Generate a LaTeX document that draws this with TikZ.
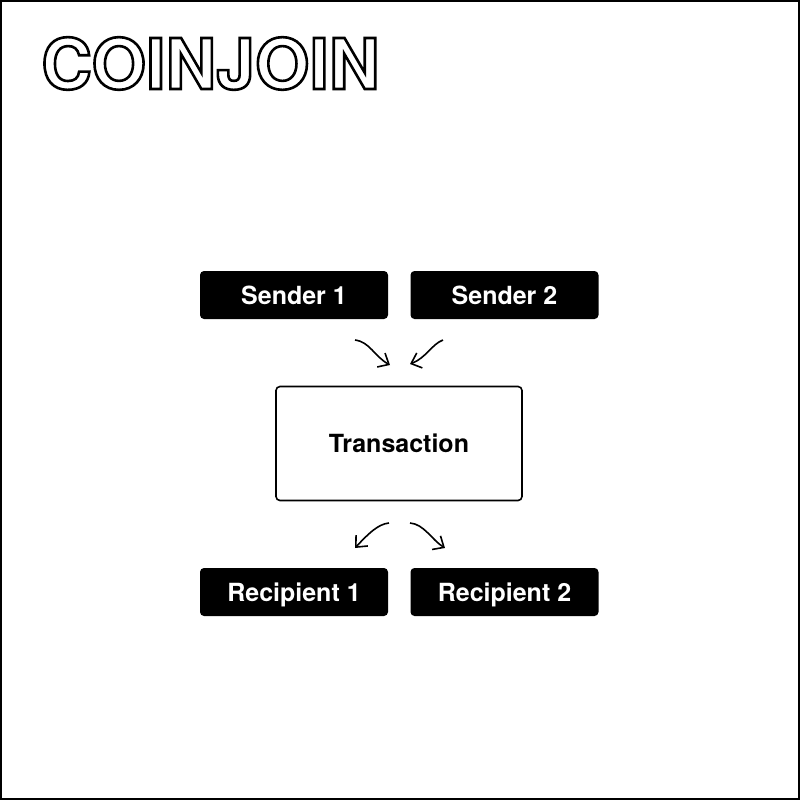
\documentclass[tikz,border=0pt]{standalone}
\usepackage{fontspec}
\setmainfont{TeX Gyre Heros}
\usetikzlibrary{arrows.meta}
\newcommand{\outlinetext}[1]{\special{pdf:code 1 Tr 1.3 w}#1\special{pdf:code 0 Tr}}
\tikzset{
  boxfont/.style={font=\bfseries\fontsize{12.5}{14}\selectfont, text height=9pt, text depth=0pt},
  blackbox/.style={fill=black, rounded corners=2pt, text=white, boxfont,
    minimum width=94pt, minimum height=24pt, inner sep=0pt},
  txbox/.style={draw=black, line width=0.8pt, fill=white, rounded corners=2pt, boxfont,
    minimum width=123pt, minimum height=57pt, inner sep=0pt},
  flow/.style={line width=0.8pt, -{Straight Barb[length=4.5pt,width=8pt,line width=0.8pt]}}
}
\begin{document}
\begin{tikzpicture}[x=0.5pt,y=-0.5pt]
\useasboundingbox (0,0) rectangle (800,800);
\draw[line width=1pt] (1,1) rectangle (799,799);

\node[anchor=base west, inner sep=0pt, font=\bfseries\fontsize{35}{40}\selectfont] (title) at (41,89)
  {\outlinetext{COINJOIN}};

\node[blackbox] (s1) at (294,295) {Sender 1};
\node[blackbox] (s2) at (504.5,295) {Sender 2};
\node[txbox] (tx) at (399,443.5) {Transaction};
\node[blackbox] (r1) at (294,592) {Recipient 1};
\node[blackbox] (r2) at (504.5,592) {Recipient 2};

\coordinate (a1s) at (355,340);
\coordinate (a1e) at (390,365);
\coordinate (a2s) at (443,340);
\coordinate (a2e) at (410,364);
\coordinate (a3s) at (389,523);
\coordinate (a3e) at (355,548);
\coordinate (a4s) at (410,523);
\coordinate (a4e) at (445,548);

\draw[flow] (a1s) .. controls (370,342) and (374,356) .. (a1e);
\draw[flow] (a2s) .. controls (432,344) and (426,358) .. (a2e);
\draw[flow] (a3s) .. controls (378,524) and (368,534) .. (a3e);
\draw[flow] (a4s) .. controls (424,524) and (432,540) .. (a4e);
\end{tikzpicture}
\end{document}
